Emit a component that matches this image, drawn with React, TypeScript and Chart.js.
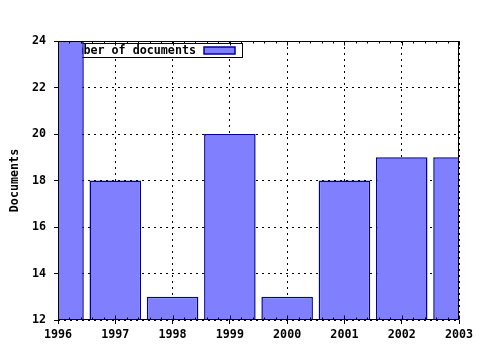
import React, { useEffect, useRef } from "react";
import { Chart, registerables } from "chart.js";

Chart.register(...registerables);

const years = [1996, 1997, 1998, 1999, 2000, 2001, 2002, 2003];
const documents = [24, 18, 13, 20, 13, 18, 19, 19];
const seriesLabel = "Number of documents";
const yTitle = "Documents";
const yMin = 12;
const yMax = 24;

const FONT = "'DejaVu Sans Mono', 'Liberation Mono', monospace";
const BAR_FILL = "#8080ff";
const BAR_EDGE = "#0000a0";

const framePlugin = {
  id: "gnuFrame",
  beforeDatasetsDraw(chart: any) {
    const { ctx, chartArea } = chart;
    const l = chartArea.left;
    const t = chartArea.top;
    ctx.save();
    ctx.fillStyle = "#ffffff";
    ctx.strokeStyle = "#000000";
    ctx.lineWidth = 1;
    ctx.fillRect(l + 2, t + 2, 182, 14);
    ctx.strokeRect(Math.round(l + 2) + 0.5, Math.round(t + 2) + 0.5, 182, 14);
    ctx.fillStyle = "#000000";
    ctx.font = "bold 11.7px " + FONT;
    ctx.textAlign = "right";
    ctx.textBaseline = "middle";
    ctx.fillText(seriesLabel, l + 138, t + 9.5);
    ctx.fillStyle = BAR_FILL;
    ctx.fillRect(l + 146, t + 6, 31, 7);
    ctx.strokeStyle = BAR_EDGE;
    ctx.lineWidth = 1.5;
    ctx.strokeRect(l + 146, t + 6, 31, 7);
    ctx.restore();
  },
  afterDatasetsDraw(chart: any) {
    const { ctx, chartArea, scales } = chart;
    const xs = scales.x;
    ctx.save();
    ctx.strokeStyle = "#000000";
    ctx.lineWidth = 1;
    const l = Math.round(chartArea.left) + 0.5;
    const t = Math.round(chartArea.top) + 0.5;
    const r = Math.round(chartArea.right) - 0.5;
    const b = Math.round(chartArea.bottom) - 0.5;
    ctx.beginPath();
    for (let i = 0; i <= (years[years.length - 1] - years[0]) * 5; i++) {
      const v = years[0] + i / 5;
      const px = Math.round(xs.getPixelForValue(v)) + 0.5;
      const len = i % 5 === 0 ? 4 : 2;
      ctx.moveTo(px, t);
      ctx.lineTo(px, t + len);
      ctx.moveTo(px, b);
      ctx.lineTo(px, b - len);
    }
    ctx.stroke();
    ctx.strokeRect(l, t, r - l, b - t);
    ctx.restore();
  },
};

export default function App() {
  const ref = useRef<HTMLCanvasElement | null>(null);
  useEffect(() => {
    if (!ref.current) return;
    const chart = new Chart(ref.current, {
      type: "bar",
      data: {
        datasets: [
          {
            label: seriesLabel,
            data: years.map((x, i) => ({ x, y: documents[i] })),
            backgroundColor: BAR_FILL,
            borderColor: BAR_EDGE,
            borderWidth: 1.5,
            borderSkipped: false,
            barPercentage: 0.9,
            categoryPercentage: 1.0,
          },
        ],
      },
      options: {
        animation: false,
        responsive: false,
        layout: { padding: { top: 41, right: 21, left: 0, bottom: 0 } },
        plugins: {
          legend: { display: false },
          tooltip: { enabled: false },
        },
        scales: {
          x: {
            type: "linear",
            offset: false,
            min: years[0],
            max: years[years.length - 1],
            afterFit: (s: any) => {
              s.height = 30;
            },
            ticks: {
              stepSize: 1,
              color: "#000",
              padding: 4,
              font: { family: FONT, size: 11.7, weight: "bold" },
              callback: (v: any) => String(v),
            },
            grid: {
              offset: false,
              color: "#000",
              lineWidth: 1,
              tickLength: 4,
              tickBorderDash: [],
            },
            border: { display: false, dash: [2, 4] },
          },
          y: {
            min: yMin,
            max: yMax,
            afterFit: (s: any) => {
              s.width = 58;
            },
            ticks: {
              stepSize: 2,
              color: "#000",
              padding: 8,
              font: { family: FONT, size: 11.7, weight: "bold" },
            },
            grid: {
              color: "#000",
              lineWidth: 1,
              tickLength: 4,
              tickBorderDash: [],
            },
            border: { display: false, dash: [2, 4] },
            title: {
              display: true,
              text: yTitle,
              color: "#000",
              font: { family: FONT, size: 11.7, weight: "bold" },
              padding: { top: 8, bottom: 0 },
            },
          },
        },
      },
      plugins: [framePlugin],
    });
    return () => chart.destroy();
  }, []);
  return (
    <div style={{ position: "fixed", left: 0, top: 0, width: 480, height: 350, background: "#fff" }}>
      <canvas ref={ref} width={480} height={350} style={{ display: "block" }} />
    </div>
  );
}
